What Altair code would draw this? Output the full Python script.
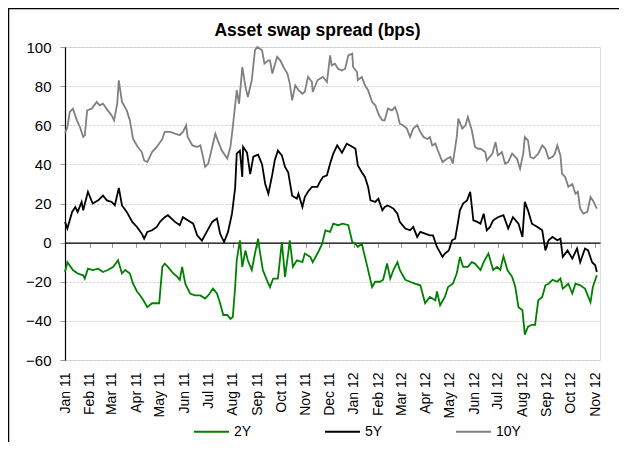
import altair as alt
import pandas as pd

FONT = "Liberation Sans"

# days since 1 Jan 2011 and asset swap spreads (bps)
days_2y = [0, 3, 10, 16, 23, 25, 29, 35, 42, 48, 54, 61, 67, 72, 76, 82, 86, 91, 95, 99,
           104, 110, 116, 119, 123, 126, 130, 137, 142, 145, 148, 152, 158, 164, 171, 177, 181, 187, 192, 196,
           200, 205, 209, 212, 215, 217, 221, 224, 228, 231, 236, 240, 244, 246, 250, 255, 259, 263, 269, 274,
           278, 282, 284, 288, 293, 300, 303, 310, 313, 320, 325, 329, 335, 339, 345, 351, 358, 363, 367, 370,
           375, 379, 383, 388, 392, 398, 402, 407, 411, 415, 420, 423, 430, 436, 442, 449, 455, 461, 468, 470,
           474, 480, 484, 490, 495, 499, 503, 509, 514, 518, 525, 529, 535, 541, 546, 550, 554, 559, 565, 569,
           573, 578, 581, 585, 590, 594, 598, 603, 607, 611, 616, 622, 626, 629, 636, 641, 645, 651, 657, 664,
           667, 672]
asw_2y = [-15, -10, -14, -15.8, -16.7, -18.4, -13.3, -14, -13.3, -15, -14, -12.4, -9, -15.8, -14, -15.8, -21, -25, -27, -29.5,
          -33, -31, -31, -31, -12.4, -10.7, -12.4, -15.8, -17.5, -19, -12.4, -21, -26, -27, -27, -28.6, -27, -23.5, -26, -31,
          -37, -37, -39, -38, -22.7, -9, 1.2, -12.4, -4, -9, -14, -5.6, 2, -4, -14, -19, -22.7, -18.4, -18.4, 0.3,
          -17.5, -5.6, 1.2, -12.4, -9, -10, -5.6, -7.3, -10, -4.8, -0.5, 6.3, 5.5, 9.7, 8.9, 9.7, 8.9, 0.3, -0.5, -2.2,
          -0.5, -7.3, -14, -22.7, -20, -20, -19, -10.7, -18.4, -14, -10, -14, -19, -20, -21, -21.8, -31, -27.8, -29.5, -25,
          -32, -27.8, -22.7, -21, -15.8, -7.3, -12.4, -12.4, -10, -10.7, -14, -10, -5.6, -14, -12.4, -14, -7, -14, -17.5, -22.7,
          -33, -34.6, -47, -43, -42, -42, -29.5, -27.8, -21.8, -21, -19, -20, -18.4, -23.5, -21, -26, -21, -21.8, -23.5, -30.4,
          -22.7, -16.7]

days_5y = [0, 3, 9, 13, 16, 21, 23, 29, 35, 42, 48, 53, 59, 63, 68, 72, 78, 85, 91, 97,
           100, 104, 110, 116, 120, 126, 130, 139, 145, 149, 155, 162, 167, 173, 179, 186, 192, 196, 201, 206,
           211, 215, 217, 221, 224, 225, 230, 234, 238, 244, 249, 253, 257, 262, 265, 269, 274, 278, 282, 287,
           293, 295, 300, 303, 307, 312, 319, 322, 326, 331, 335, 339, 344, 350, 356, 363, 367, 370, 375, 379,
           383, 386, 392, 396, 401, 404, 408, 415, 420, 423, 430, 436, 440, 445, 449, 455, 461, 465, 470, 477,
           480, 485, 489, 493, 497, 499, 503, 508, 512, 516, 521, 525, 529, 533, 537, 541, 547, 554, 560, 566,
           573, 578, 581, 585, 590, 597, 603, 607, 611, 616, 622, 626, 629, 635, 641, 647, 651, 657, 661, 666,
           670, 672]
asw_5y = [10.6, 7.2, 15.7, 18.2, 15.7, 20.8, 16.5, 26, 20, 21.6, 24, 21.6, 20.8, 19, 28, 19, 15.7, 10.6, 8, 4.6,
          2, 5.5, 6.3, 8, 10.6, 13, 14, 10.6, 9, 13, 11.4, 9.7, 3.7, 1, 5.5, 10.6, 12.3, 4.6, 0.3, 5.5,
          14.8, 28, 45.5, 47, 33.6, 49, 46, 35, 44, 45, 40, 30, 25, 35, 42, 47, 44.6, 38.7, 36, 24,
          22.5, 25, 18.2, 23.3, 26, 28.5, 28.5, 31, 33.6, 34.4, 40.4, 45.5, 49.7, 46, 50.6, 49, 48, 39.5, 36, 33.6,
          28.5, 21.6, 20.8, 22.5, 16.5, 18.2, 19, 17.4, 14.8, 10.6, 7.2, 6.3, 8, 2.9, 5.5, 4.6, 3.7, 3.7, -2.2, -7.3,
          -5.6, -4, 1.2, 2, 11.4, 16.5, 20, 21.6, 26, 11.4, 10.6, 9.7, 14.8, 6.3, 8, 11.4, 13, 14, 7.2, 13,
          9.7, 2.9, 20.8, 16.5, 9.7, 8, 6.3, -4, 1.2, 2.9, 1.2, 2, -7.3, -4, -8.2, -3, -10, -3, -4, -10,
          -11.6, -15]

days_10y = [0, 3, 6, 10, 15, 19, 23, 25, 28, 34, 40, 44, 48, 54, 59, 62, 66, 68, 72, 78,
            82, 86, 92, 97, 100, 104, 110, 116, 123, 126, 133, 139, 145, 149, 153, 155, 161, 167, 171, 174,
            177, 181, 186, 190, 193, 198, 205, 209, 212, 217, 220, 224, 228, 231, 236, 240, 243, 249, 252, 257,
            259, 262, 268, 272, 276, 281, 284, 287, 291, 295, 300, 303, 307, 312, 313, 319, 322, 326, 331, 335,
            337, 341, 345, 350, 354, 358, 363, 364, 369, 370, 375, 379, 383, 388, 392, 397, 401, 404, 408, 413,
            417, 420, 423, 427, 432, 436, 440, 445, 449, 453, 458, 461, 464, 468, 471, 477, 483, 487, 490, 495,
            497, 502, 506, 509, 514, 518, 522, 525, 531, 533, 540, 544, 547, 552, 556, 560, 565, 571, 575, 579,
            581, 585, 588, 592, 598, 603, 607, 611, 616, 619, 622, 626, 628, 632, 636, 641, 645, 648, 651, 655,
            660, 664, 667, 672]
asw_10y = [56, 59, 66.8, 68.5, 62.5, 59, 54, 54.9, 67.6, 68.5, 71.9, 70.2, 71, 67.6, 65, 62.5, 71, 83, 71.9, 67.6,
           62.5, 53, 48.9, 46.3, 42, 41.2, 46.3, 48.9, 53, 56.6, 56.6, 55.7, 54.9, 56.6, 60, 54, 49.7, 48.9, 49.7, 44.6,
           38.7, 40.4, 48.9, 55.7, 52.3, 47.2, 43, 48.9, 59, 77.9, 71, 89.8, 79.6, 74.4, 83, 98.3, 100, 98.3, 91.5, 93.2,
           93.2, 86.4, 95, 93.2, 89.8, 86.4, 81.3, 72.7, 80.4, 77.9, 76.1, 77, 84.7, 82.1, 77, 83, 83.8, 84.7, 82.1, 95.7,
           90.6, 91.5, 88.9, 88, 88.9, 95.7, 96.6, 89.8, 87.2, 83, 84.7, 80.4, 77.9, 71.9, 70.2, 65, 62.5, 62.5, 68.5, 67.6,
           69.3, 66, 60.8, 60, 58.3, 54, 58.3, 60, 56.6, 54, 53, 54, 49.7, 50.6, 47.2, 41.2, 43, 43.8, 40.4, 54,
           63.4, 58.3, 60, 64.2, 57.4, 48.9, 48, 48, 46.3, 42, 45.5, 51.4, 44.6, 46.3, 40.4, 41.2, 45.5, 43, 37.8, 45.5,
           54, 52.3, 43.8, 43, 45.5, 49.7, 48, 43, 43.8, 45.5, 49.7, 44.6, 35.3, 33.6, 28.5, 30, 25, 26, 17.4, 14.8,
           15.7, 23.3, 21.6, 17.4]

series_names = ["2Y", "5Y", "10Y"]
series_colors = ["#008000", "#000000", "#808080"]
y_ticks = [-60, -40, -20, 0, 20, 40, 60, 80, 100]
y_min, y_max = -60, 100
title_text = "Asset swap spread (bps)"

start = pd.Timestamp("2011-01-01")
frames = []
for name, d, v in [("2Y", days_2y, asw_2y), ("5Y", days_5y, asw_5y), ("10Y", days_10y, asw_10y)]:
    assert len(d) == len(v), name
    frames.append(pd.DataFrame({
        "date": [(start + pd.Timedelta(days=int(x))).strftime("%Y-%m-%d") for x in d],
        "value": v,
        "series": name,
    }))
df = pd.concat(frames, ignore_index=True)

W, H = 535, 313
zero_offset = -(0 - y_min) / (y_max - y_min) * H

xscale = alt.Scale(type="utc", domain=[alt.DateTime(year=2011, month=1, date=1, utc=True),
                                       alt.DateTime(year=2012, month=11, date=7, utc=True)])
month_step = alt.TimeIntervalStep(interval="month", step=1)

lines = alt.Chart(df).mark_line(strokeWidth=1.8).encode(
    x=alt.X("date:T", scale=xscale, axis=alt.Axis(
        orient="bottom", title=None, format="%b %y", labelAngle=270, tickCount=month_step,
        domain=False, ticks=False, grid=False, labelPadding=12, labelFontSize=14,
        labelColor="black", labelFont=FONT, labelOverlap=False, labelFlush=False)),
    y=alt.Y("value:Q", scale=alt.Scale(domain=[y_min, y_max], nice=False, zero=False), axis=alt.Axis(
        values=y_ticks, title=None, grid=True, gridDash=[2, 2], gridColor="#c8c8c8",
        domainColor="black", domainWidth=1.2, tickColor="#999999", tickSize=5,
        labelPadding=9, labelFontSize=15, labelColor="black", labelFont=FONT)),
    color=alt.Color("series:N", scale=alt.Scale(domain=series_names, range=series_colors),
                    legend=alt.Legend(title=None, orient="none", legendX=128, legendY=366,
                                      direction="horizontal", symbolType="stroke", symbolSize=1225,
                                      symbolStrokeWidth=2, labelFontSize=14, labelFont=FONT,
                                      labelColor="black", labelOffset=4, columnPadding=62,
                                      gridAlign="all", padding=0)),
)

zero_axis = alt.Chart(df).mark_rule(opacity=0).encode(
    x=alt.X("date:T", scale=xscale, axis=alt.Axis(
        orient="bottom", offset=zero_offset, labels=False, title=None, tickCount=month_step,
        domainColor="black", domainWidth=1.2, tickColor="#999999", tickSize=5, grid=False)),
)

one = pd.DataFrame({"a": [0]})
border_top = alt.Chart(one).mark_rule(color="black", strokeWidth=1.5).encode(
    x=alt.value(-57), x2=alt.value(560), y=alt.value(-38.4), y2=alt.value(-38.4))
border_left = alt.Chart(one).mark_rule(color="black", strokeWidth=1.5).encode(
    x=alt.value(-56.5), x2=alt.value(-56.5), y=alt.value(-39), y2=alt.value(400))

chart = alt.layer(border_top, border_left, lines, zero_axis).resolve_axis(x="independent").properties(
    width=W, height=H,
    autosize=alt.AutoSizeParams(type="none"),
    padding={"left": 57, "top": 39, "right": 19, "bottom": 82},
    title=alt.Title(title_text, fontSize=17.5, font=FONT, fontWeight="bold", anchor="middle",
                    frame="group", offset=-46, baseline="alphabetic", dx=-15, color="black"),
).configure_view(stroke=None).configure(background="white")

chart.save("out.html", embed_options={"renderer": "svg", "actions": False})
